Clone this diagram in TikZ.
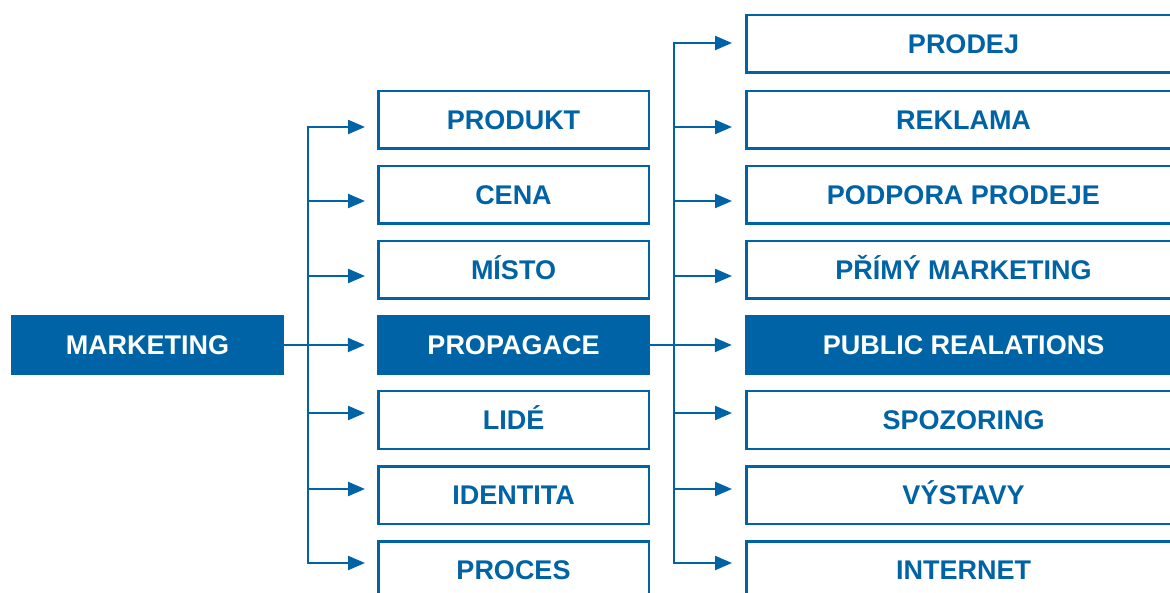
\documentclass[tikz,border=0pt]{standalone}
\usepackage{fontspec}
\setmainfont{Liberation Sans}
\usetikzlibrary{arrows.meta}
\definecolor{mblue}{RGB}{0,99,166}
\begin{document}
\begin{tikzpicture}[x=1pt,y=-1pt,
  lbl/.style={font=\bfseries\fontsize{27}{30}\selectfont,inner sep=0pt,text height=19pt,text depth=0pt,anchor=center},
  obox/.style={lbl,draw=mblue,line width=2.5pt,fill=white,text=mblue,minimum width=270.5pt,minimum height=57.5pt},
  fbox/.style={lbl,fill=mblue,text=white,minimum width=273pt,minimum height=60pt},
  wobox/.style={obox,minimum width=434.5pt},
  wfbox/.style={fbox,minimum width=437pt},
  link/.style={draw=mblue,line width=2.2pt,line join=miter},
  arr/.style={link,-{Triangle[length=17pt,width=14pt]}},
  arrr/.style={link,{Triangle[length=17pt,width=14pt]}-{Triangle[length=17pt,width=14pt]}}]
\useasboundingbox (0,0) rectangle (1170,593);
\clip (0,0) rectangle (1170,593);
% left box
\node[fbox] (mk) at (147.5,345) {MARKETING};
% middle column
\node[obox] (p1) at (513.5,120) {PRODUKT};
\node[obox] (p2) at (513.5,195) {CENA};
\node[obox] (p3) at (513.5,270) {MÍSTO};
\node[fbox] (p4) at (513.5,345) {PROPAGACE};
\node[obox] (p5) at (513.5,420) {LIDÉ};
\node[obox] (p6) at (513.5,495) {IDENTITA};
\node[obox] (p7) at (513.5,570) {PROCES};
% right column
\node[wobox] (r1) at (963.5,44) {PRODEJ};
\node[wobox] (r2) at (963.5,120) {REKLAMA};
\node[wobox] (r3) at (963.5,195) {PODPORA PRODEJE};
\node[wobox] (r4) at (963.5,270) {PŘÍMÝ MARKETING};
\node[wfbox] (r5) at (963.5,345) {PUBLIC REALATIONS};
\node[wobox] (r6) at (963.5,420) {SPOZORING};
\node[wobox] (r7) at (963.5,495) {VÝSTAVY};
\node[wobox] (r8) at (963.5,570) {INTERNET};
% trunk 1
\coordinate (a1) at (308,127);
\coordinate (a2) at (308,201);
\coordinate (a3) at (308,276);
\coordinate (a5) at (308,413);
\coordinate (a6) at (308,489);
\coordinate (a7) at (308,563);
\draw[arrr] ([xshift=-12pt,yshift=-7pt]p1.west) -- (a1) -- (a7) -- ([xshift=-12pt,yshift=7pt]p7.west);
\draw[arr] (a2) -- ([xshift=-12pt,yshift=-6pt]p2.west);
\draw[arr] (a3) -- ([xshift=-12pt,yshift=-6pt]p3.west);
\draw[arr] (mk.east) -- ([xshift=-12pt]p4.west);
\draw[arr] (a5) -- ([xshift=-12pt,yshift=7pt]p5.west);
\draw[arr] (a6) -- ([xshift=-12pt,yshift=6pt]p6.west);
% trunk 2
\coordinate (b1) at (674,43);
\coordinate (b2) at (674,127);
\coordinate (b3) at (674,201);
\coordinate (b4) at (674,276);
\coordinate (b6) at (674,413);
\coordinate (b7) at (674,489);
\coordinate (b8) at (674,563);
\draw[arrr] ([xshift=-13pt,yshift=1pt]r1.west) -- (b1) -- (b8) -- ([xshift=-13pt,yshift=7pt]r8.west);
\draw[arr] (b2) -- ([xshift=-13pt,yshift=-7pt]r2.west);
\draw[arr] (b3) -- ([xshift=-13pt,yshift=-6pt]r3.west);
\draw[arr] (b4) -- ([xshift=-13pt,yshift=-6pt]r4.west);
\draw[arr] (p4.east) -- ([xshift=-13pt]r5.west);
\draw[arr] (b6) -- ([xshift=-13pt,yshift=7pt]r6.west);
\draw[arr] (b7) -- ([xshift=-13pt,yshift=6pt]r7.west);
\end{tikzpicture}
\end{document}
